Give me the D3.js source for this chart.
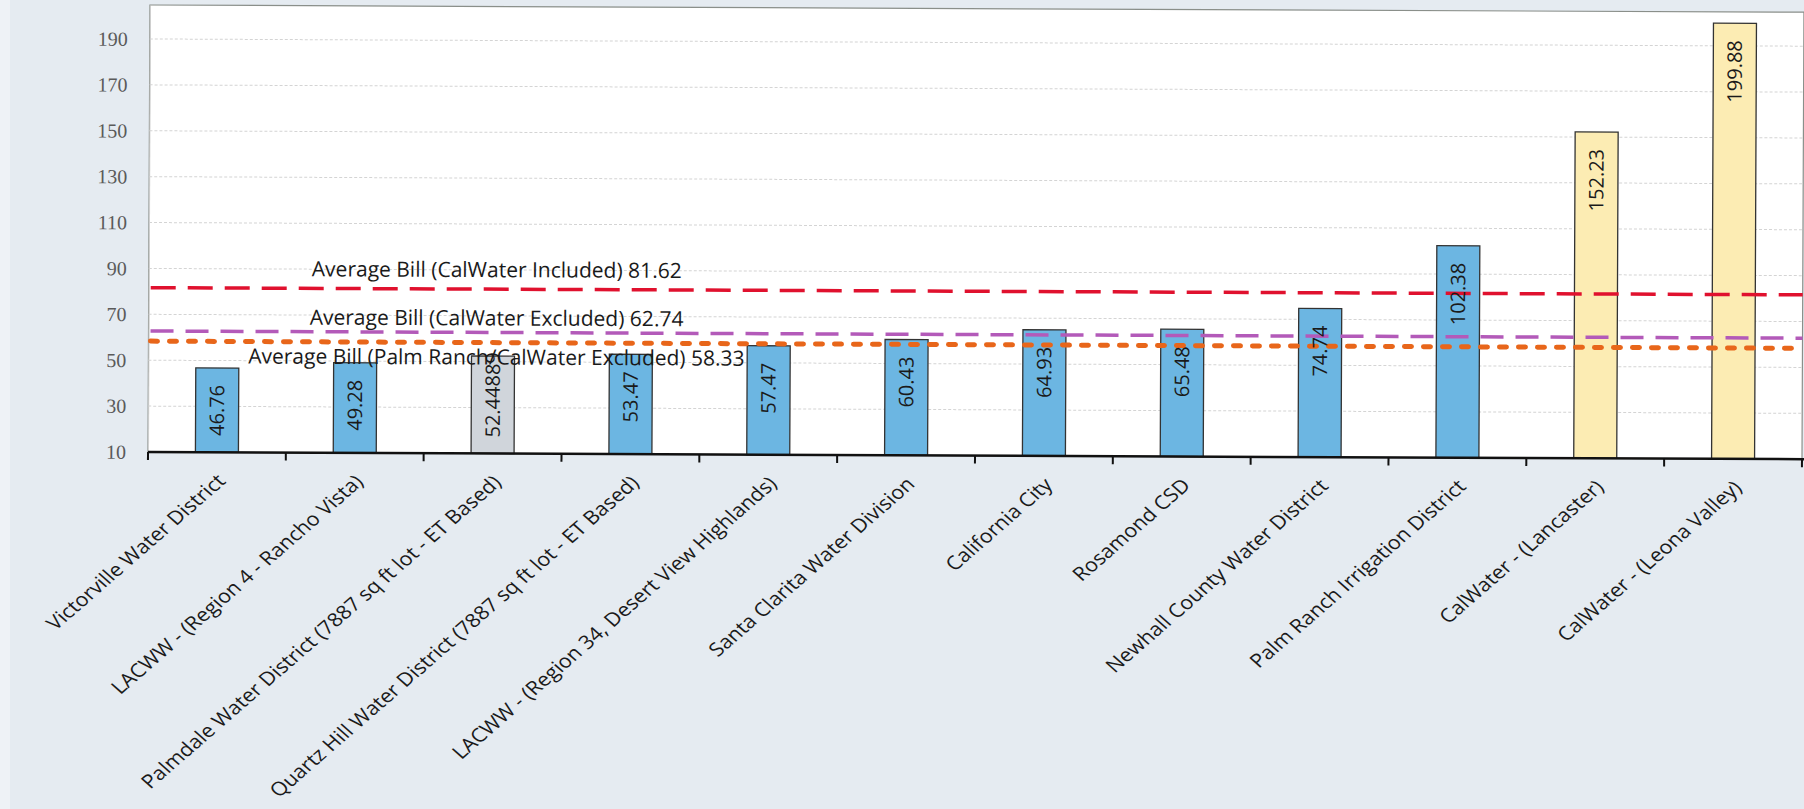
<!DOCTYPE html>
<html><head><meta charset="utf-8">
<script src="https://cdn.jsdelivr.net/npm/d3@7"></script>
<style>body{margin:0;background:#e4eaf0;overflow:hidden}</style>
</head><body>
<svg id="chart" width="1804" height="809"></svg>
<script>
const categories = [
  "Victorville Water District",
  "LACWW - (Region 4 - Rancho Vista)",
  "Palmdale Water District (7887 sq ft lot - ET Based)",
  "Quartz Hill Water District (7887 sq ft lot - ET Based)",
  "LACWW - (Region 34, Desert View Highlands)",
  "Santa Clarita Water Division",
  "California City",
  "Rosamond CSD",
  "Newhall County Water District",
  "Palm Ranch Irrigation District",
  "CalWater - (Lancaster)",
  "CalWater - (Leona Valley)"
];
const billValues = [46.76, 49.28, 52.44889, 53.47, 57.47, 60.43, 64.93, 65.48, 74.74, 102.38, 152.23, 199.88];
const billLabels = ["46.76","49.28","52.44889","53.47","57.47","60.43","64.93","65.48","74.74","102.38","152.23","199.88"];
const barGroup = ["other","other","palmdale","other","other","other","other","other","other","other","calwater","calwater"];
const yTickValues = [10, 30, 50, 70, 90, 110, 130, 150, 170, 190];
const avgNames = ["Average Bill (CalWater Included)", "Average Bill (CalWater Excluded)", "Average Bill (Palm Ranch/CalWater Excluded)"];
const avgValues = [81.62, 62.74, 58.33];
const avgLabels = ["81.62", "62.74", "58.33"];

const W = 1804, H = 809;
const plot = {left: 148, right: 1802, top: 5, bottom: 452};
const svg = d3.select("#chart");

svg.append("rect").attr("width", W).attr("height", H).attr("fill", "#e5ebf1");
svg.append("rect").attr("width", 10).attr("height", H).attr("fill", "#eef2f6");

// slight scan tilt of the original page
const root = svg.append("g").attr("transform", `rotate(0.25, ${plot.left}, ${plot.bottom})`);

const x = d3.scaleBand().domain(categories).range([plot.left, plot.right]).paddingInner(0.688).paddingOuter(0.344);
const y = d3.scaleLinear().domain([10, 204.8]).range([plot.bottom, plot.top]);

// plot area
root.append("rect").attr("x", plot.left).attr("y", plot.top)
  .attr("width", plot.right - plot.left).attr("height", plot.bottom - plot.top)
  .attr("fill", "#ffffff").attr("stroke", "#8a8f8a").attr("stroke-width", 1.2);

// gridlines
root.append("g").selectAll("line").data(yTickValues.filter(d => d > 10)).join("line")
  .attr("x1", plot.left).attr("x2", plot.right)
  .attr("y1", d => y(d)).attr("y2", d => y(d))
  .attr("stroke", "#d4d4d4").attr("stroke-width", 1).attr("stroke-dasharray", "3,2");

// y axis labels
const yAxis = d3.axisLeft(y).tickValues(yTickValues).tickSize(0).tickPadding(22).tickFormat(d3.format("d"));
const gy = root.append("g").attr("transform", `translate(${plot.left},0)`).call(yAxis);
gy.select(".domain").attr("stroke", "#d0d0d0").attr("stroke-width", 1);
gy.selectAll("text").attr("font-family", "Liberation Serif, serif").attr("font-size", 20).attr("fill", "#5a5a5a");

// bars
const colors = {other: "#6cb6e2", palmdale: "#d0d5db", calwater: "#fcecb3"};
root.append("g").selectAll("rect").data(categories).join("rect")
  .attr("x", d => x(d)).attr("width", x.bandwidth())
  .attr("y", (d, i) => y(billValues[i]))
  .attr("height", (d, i) => y(10) - y(billValues[i]))
  .attr("fill", (d, i) => colors[barGroup[i]])
  .attr("stroke", "#333").attr("stroke-width", 1.3);

// x axis
const xTickPos = d3.range(categories.length + 1).map(i => plot.left + i * x.step());
root.append("line").attr("x1", plot.left).attr("x2", plot.right + 2)
  .attr("y1", plot.bottom).attr("y2", plot.bottom).attr("stroke", "#111").attr("stroke-width", 2.5);
root.append("g").selectAll("line").data(xTickPos).join("line")
  .attr("x1", d => d).attr("x2", d => d).attr("y1", plot.bottom).attr("y2", plot.bottom + 8)
  .attr("stroke", "#111").attr("stroke-width", 2);

// category labels (rotated 45deg, then stretched horizontally like the scanned page)
root.append("g").selectAll("text").data(categories).join("text")
  .attr("transform", d => `translate(${x(d) + x.bandwidth() / 2 + 10},${plot.bottom + 30}) scale(1.14,1) rotate(-45)`)
  .attr("text-anchor", "end")
  .attr("font-family", "Open Sans, sans-serif")
  .attr("font-size", 19).attr("fill", "#1a1a1a")
  .text(d => d);

// average lines
const avgStyles = [
  {stroke: "#e0112e", width: 3.5, dash: "25,12", cap: "butt"},
  {stroke: "#b35ab9", width: 3.5, dash: "23,12", cap: "butt"},
  {stroke: "#e8661a", width: 5, dash: "7,12", cap: "round"}
];
root.append("g").selectAll("line").data(avgValues).join("line")
  .attr("x1", plot.left + 2).attr("x2", plot.right)
  .attr("y1", d => y(d)).attr("y2", d => y(d))
  .attr("stroke", (d, i) => avgStyles[i].stroke)
  .attr("stroke-width", (d, i) => avgStyles[i].width)
  .attr("stroke-linecap", (d, i) => avgStyles[i].cap)
  .attr("stroke-dasharray", (d, i) => avgStyles[i].dash);

// data labels (inside end, rotated)
root.append("g").selectAll("text").data(categories).join("text")
  .attr("transform", (d, i) => {
    const cx = x(d) + x.bandwidth() / 2 + 7;
    const top = y(billValues[i]) + 17;
    return `translate(${cx},${top}) rotate(-90)`;
  })
  .attr("text-anchor", "end")
  .attr("font-family", "Open Sans, sans-serif").attr("font-size", 20).attr("fill", "#1a1a1a")
  .each(function(d, i) {
    const el = d3.select(this).text(billLabels[i]);
    const len = this.getComputedTextLength();
    const barH = y(10) - y(billValues[i]);
    if (len > barH - 30) {
      const cx = x(d) + x.bandwidth() / 2 + 7;
      el.attr("text-anchor", "start").attr("transform", `translate(${cx},${y(10) - 16}) rotate(-90)`);
    }
  });

// average labels
const avgLabelOffsets = [-12, -7, 22];
root.append("g").selectAll("text").data(avgValues).join("text")
  .attr("x", 496)
  .attr("y", (d, i) => y(d) + avgLabelOffsets[i])
  .attr("text-anchor", "middle")
  .attr("font-family", "Open Sans, sans-serif").attr("font-size", 21).attr("fill", "#1a1a1a")
  .text((d, i) => `${avgNames[i]} ${avgLabels[i]}`);
</script>
</body></html>
